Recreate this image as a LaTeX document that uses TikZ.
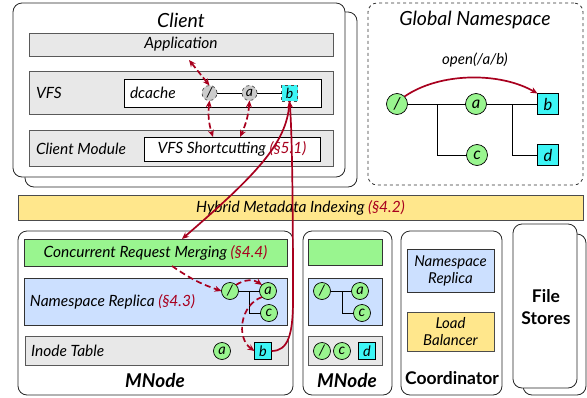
\documentclass[tikz,border=0pt]{standalone}
\usepackage{fontspec}
\setmainfont{Lato}
\usetikzlibrary{arrows.meta,calc}
\definecolor{myred}{HTML}{A8001E}
\definecolor{bargrey}{HTML}{E8E8E8}
\definecolor{mygreen}{HTML}{99F58F}
\definecolor{myblue}{HTML}{CCE0FF}
\definecolor{myyellow}{HTML}{FFE78C}
\definecolor{mycyan}{HTML}{3DF5F5}
\begin{document}
\begin{tikzpicture}[x=1pt,y=-1pt,
  every node/.style={inner sep=0pt, outer sep=0pt, font=\itshape\fontsize{15.5}{17}\selectfont},
  box/.style={anchor=north west, rectangle, line width=0.8pt},
  container/.style={box, draw=black!85, fill=white, rounded corners=9pt},
  greybar/.style={box, draw=black!65, fill=bargrey},
  whitebox/.style={box, draw=black, fill=white},
  greenbar/.style={box, draw=black!80, fill=mygreen},
  bluebar/.style={box, draw=black!80, fill=myblue},
  yellowbar/.style={box, draw=black!70, fill=myyellow},
  title/.style={font=\itshape\fontsize{19.5}{22}\selectfont},
  mtitle/.style={font=\bfseries\itshape\fontsize{19}{22}\selectfont},
  btitle/.style={font=\bfseries\fontsize{17.5}{20}\selectfont, align=center},
  two/.style={align=center, font=\itshape\fontsize{15}{17}\selectfont},
  gcirc/.style={circle, draw=black, line width=0.7pt, fill=mygreen, minimum width=#1, minimum height=#1, font=\itshape\fontsize{14.5}{16}\selectfont},
  gcirc/.default=17pt,
  csq/.style={rectangle, draw=black, line width=0.7pt, fill=mycyan, minimum width=#1, minimum height=#1, font=\itshape\fontsize{14.5}{16}\selectfont},
  csq/.default=17pt,
  bigfont/.style={font=\itshape\fontsize{16.5}{18}\selectfont},
  dcirc/.style={circle, draw=black!70, dashed, line width=0.7pt, fill=black!20, minimum size=15pt, font=\itshape\fontsize{14}{16}\selectfont},
  dsq/.style={rectangle, draw=black!70, dashed, line width=0.7pt, fill=mycyan, minimum size=16pt, font=\itshape\fontsize{14}{16}\selectfont},
  tree/.style={draw=black, line width=0.7pt},
  redarrow/.style={draw=myred, line width=1.7pt, -{Stealth[length=7pt,width=6pt]}},
  reddash/.style={redarrow, dash pattern=on 6pt off 3.5pt},
  reddouble/.style={draw=myred, line width=1.7pt, dash pattern=on 6pt off 3pt, {Stealth[length=7pt,width=6pt]}-{Stealth[length=7pt,width=6pt]}}
]
\useasboundingbox (0,0) rectangle (587,397);

% ---------- Client ----------
\node[container, minimum width=332pt, minimum height=175pt] (clientback) at (25,12) {};
\node[container, minimum width=332pt, minimum height=174pt] (client) at (13,3) {};
\node[title] (clientt) at (181,20) {Client};
\node[greybar, minimum width=304pt, minimum height=23pt] (app) at (29,33) {};
\node (appt) at (app.center) {Application};
\node[greybar, minimum width=304pt, minimum height=43pt] (vfs) at (29,71) {};
\node[anchor=west] (vfst) at (36,93) {VFS};
\node[whitebox, minimum width=197pt, minimum height=28pt] (dc) at (124,79) {};
\node[anchor=west] (dct) at (130,93) {dcache};
\node[dcirc] (d1) at (209.5,93) {/};
\node[dcirc] (da) at (249.5,93) {a};
\node[dsq] (db) at (289.5,93) {b};
\draw[tree] (d1) -- (da) -- (db);
\node[greybar, minimum width=304pt, minimum height=36pt] (cm) at (29,130) {};
\node[anchor=west] (cmt) at (36,149) {Client Module};
\node[whitebox, minimum width=176pt, minimum height=24pt] (vs) at (144,137) {};
\node (vst) at (vs.center) {VFS Shortcutting \textcolor{myred}{(§5.1)}};

% ---------- Global Namespace ----------
\node[box, draw=black!80, dashed, rounded corners=9pt, minimum width=215pt, minimum height=182pt] (gn) at (368,3) {};
\node[title] (gnt) at (475,20) {Global Namespace};
\node[font=\itshape\fontsize{15}{17}\selectfont] (open) at (475,60) {open(/a/b)};
\node[gcirc=21pt, bigfont] (g1) at (397,104) {/};
\node[gcirc=21pt, bigfont] (ga) at (476,104) {a};
\node[csq=21pt, bigfont] (gb) at (548,104) {b};
\node[gcirc=21pt, bigfont] (gc) at (477,155) {c};
\node[csq=21pt, bigfont] (gd) at (548,155) {d};
\coordinate (gj1) at (437,104);
\coordinate (gj2) at (512,104);
\draw[tree] (g1) -- (ga);
\draw[tree] (gj1) |- (gc);
\draw[tree] (ga) -- (gb);
\draw[tree] (gj2) |- (gd);
\draw[redarrow] (g1.north east) .. controls (440,72) and (500,72) .. (gb.north west);

% ---------- Hybrid Metadata Indexing ----------
\node[yellowbar, minimum width=565pt, minimum height=25pt] (hmi) at (18,195) {};
\node (hmit) at (hmi.center) {Hybrid Metadata Indexing \textcolor{myred}{(§4.2)}};

% ---------- MNode 1 ----------
\node[container, minimum width=275pt, minimum height=164pt] (mn1) at (18,231) {};
\node[greenbar, minimum width=263pt, minimum height=27pt] (crm) at (24,239) {};
\node (crmt) at (crm.center) {Concurrent Request Merging \textcolor{myred}{(§4.4)}};
\node[bluebar, minimum width=263pt, minimum height=47pt] (nr) at (24,278) {};
\node[anchor=west] (nrt) at (30,302) {Namespace Replica \textcolor{myred}{(§4.3)}};
\node[gcirc] (m1) at (230,291) {/};
\node[gcirc] (ma) at (268,291) {a};
\node[gcirc] (mc) at (269,313) {c};
\coordinate (mj) at (249,291);
\draw[tree] (m1) -- (ma);
\draw[tree] (mj) |- (mc);
\node[greybar, minimum width=263pt, minimum height=29pt] (it) at (25,336) {};
\node[anchor=west] (itt) at (31,351) {Inode Table};
\node[gcirc] (ia) at (222,351) {a};
\node[csq] (ib) at (263,351) {b};
\node[mtitle] (mn1t) at (155,381) {MNode};

% ---------- MNode 2 ----------
\node[container, minimum width=89pt, minimum height=164pt] (mn2) at (303,231) {};
\node[greenbar, minimum width=74pt, minimum height=26pt] (crm2) at (308,239) {};
\node[bluebar, minimum width=74pt, minimum height=47pt] (nr2) at (308,278) {};
\node[gcirc] (n1) at (322,291) {/};
\node[gcirc] (na) at (360,291) {a};
\node[gcirc] (nc) at (362,313) {c};
\coordinate (nj) at (342,291);
\draw[tree] (n1) -- (na);
\draw[tree] (nj) |- (nc);
\node[greybar, minimum width=74pt, minimum height=29pt] (it2) at (308,336) {};
\node[gcirc] (p1) at (322,351) {/};
\node[gcirc] (pc) at (342,351) {c};
\node[csq] (pd) at (367,351) {d};
\node[mtitle] (mn2t) at (347,381) {MNode};

% ---------- Coordinator ----------
\node[container, minimum width=101pt, minimum height=164pt] (co) at (401,231) {};
\node[bluebar, minimum width=87pt, minimum height=43pt] (conr) at (407,249) {};
\node[two] (conrt) at (conr.center) {Namespace\\Replica};
\node[yellowbar, minimum width=87pt, minimum height=39pt] (lb) at (407,312) {};
\node[two] (lbt) at (lb.center) {Load\\Balancer};
\node[btitle] (cot) at (452,378) {Coordinator};

% ---------- File Stores ----------
\node[container, minimum width=63pt, minimum height=161pt] (fsback) at (523,234) {};
\node[container, minimum width=64pt, minimum height=164pt] (fs) at (513,224) {};
\node[btitle] (fst) at (546,307) {File\\[2pt]Stores};

% ---------- Red connectors ----------
\draw[reddouble] ($(app.south)+(8,4)$) -- (d1.north);
\draw[reddouble] (d1.south) to[bend right=12] ($(vs.north)+(-19,0)$);
\draw[reddouble] (da.south) to[bend left=10] ($(vs.north)+(8,0)$);
\draw[redarrow] (db.south) .. controls (288,140) and (262,170) .. ($(crm.north)+(26.5,0)$);
\draw[redarrow] (ib.east) .. controls (288,351) and (293,335) .. (293,300) .. controls (293,200) and (292,130) .. (db.south);
\draw[reddash] ($(crm.south)+(16.5,0)$) to[bend right=8] (m1.west);
\draw[reddash] (m1.north east) to[bend left=35] (ma.north west);
\draw[reddash] (ma.south west) .. controls (240,305) and (236,338) .. (ib.west);
\end{tikzpicture}
\end{document}
